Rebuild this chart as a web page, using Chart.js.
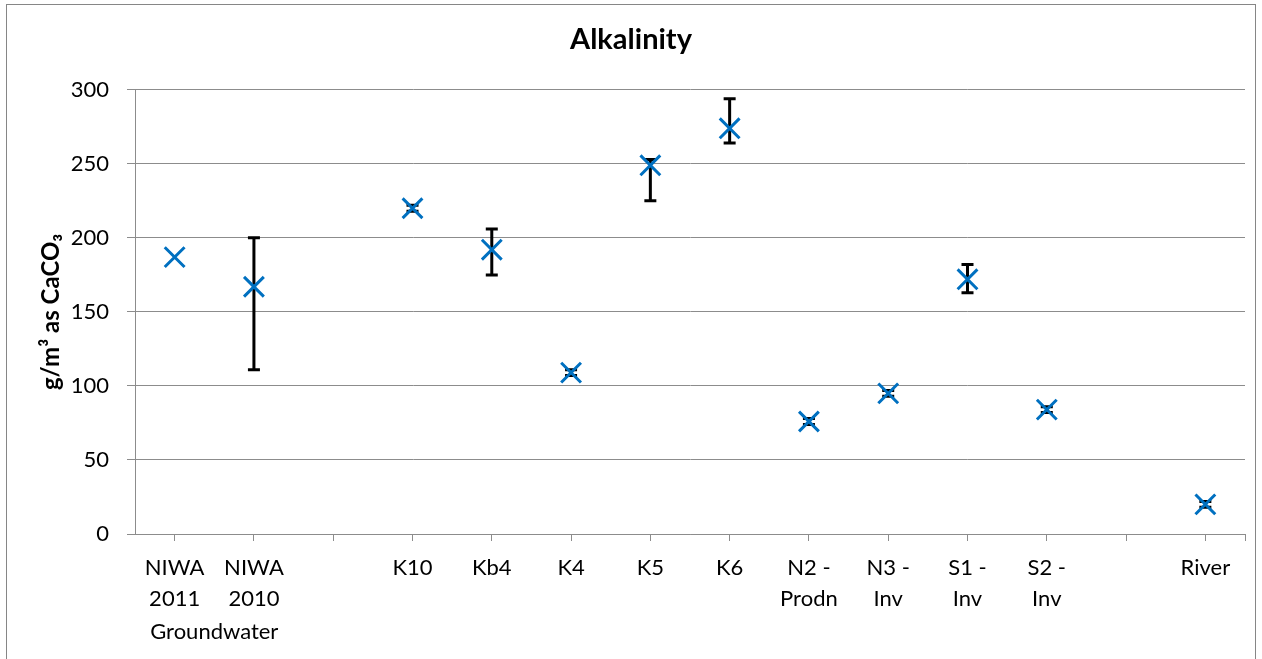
<!DOCTYPE html>
<html>
<head>
<meta charset="utf-8">
<title>Alkalinity</title>
<script src="https://cdn.jsdelivr.net/npm/chart.js@4.4.1/dist/chart.umd.min.js"></script>
<style>
  html, body { margin: 0; padding: 0; background: #fff; }
  #wrap { width: 1262px; height: 659px; }
</style>
</head>
<body>
<div id="wrap"><canvas id="alkChart" width="1262" height="659"></canvas></div>
<script>
// Sites (blank entries are gaps on the axis)
const categories = [
    ['NIWA', '2011'], ['NIWA', '2010'], '',
    'K10', 'Kb4', 'K4', 'K5', 'K6',
    ['N2 -', 'Prodn'], ['N3 -', 'Inv'], ['S1 -', 'Inv'], ['S2 -', 'Inv'],
    '', 'River'
];
// Mean alkalinity, g/m3 as CaCO3
const alkalinity = [187, 167, null, 220, 192, 109, 249, 274, 76, 95, 172, 84, null, 20];
// Range (max / min) shown as error bars
const alkMax = [null, 200, null, 222, 206, 111, 253, 294, 78, 97, 182, 86, null, 22];
const alkMin = [null, 111, null, 218, 175, 107, 225, 264, 74, 93, 163, 82, null, 18];
const yTicks = [0, 50, 100, 150, 200, 250, 300];
// second level label under the first two sites
const groupLabel = 'Groundwater';
const groupSpan = [0, 1];

const axisGrey = '#8c8c8c';
const markerBlue = '#0070c0';
const fontFam = "Lato, 'Open Sans', sans-serif";

// frame around the whole chart + white background
const framePlugin = {
    id: 'frame',
    beforeDraw(chart) {
        const ctx = chart.ctx;
        ctx.save();
        ctx.fillStyle = '#fff';
        ctx.fillRect(0, 0, chart.width, chart.height);
        ctx.strokeStyle = '#868686';
        ctx.lineWidth = 1;
        ctx.strokeRect(6.5, 4.5, chart.width - 13, chart.height + 20);
        ctx.restore();
    }
};

// min/max bars with caps, drawn under the markers
const errorBars = {
    id: 'errorBars',
    beforeDatasetsDraw(chart) {
        const ctx = chart.ctx;
        const x = chart.scales.x;
        const y = chart.scales.y;
        ctx.save();
        ctx.strokeStyle = '#000';
        ctx.lineWidth = 3;
        alkMax.forEach((hi, i) => {
            if (hi === null) return;
            const px = x.getPixelForValue(i);
            const top = y.getPixelForValue(hi);
            const bot = y.getPixelForValue(alkMin[i]);
            ctx.beginPath();
            ctx.moveTo(px, top);
            ctx.lineTo(px, bot);
            ctx.moveTo(px - 6, top);
            ctx.lineTo(px + 6, top);
            ctx.moveTo(px - 6, bot);
            ctx.lineTo(px + 6, bot);
            ctx.stroke();
        });
        ctx.restore();
    },
    afterDraw(chart) {
        const ctx = chart.ctx;
        const x = chart.scales.x;
        const area = chart.chartArea;
        ctx.save();
        // closing tick at the right end of the category axis
        ctx.strokeStyle = axisGrey;
        ctx.lineWidth = 1;
        ctx.beginPath();
        ctx.moveTo(Math.round(area.right) + 0.5, area.bottom);
        ctx.lineTo(Math.round(area.right) + 0.5, area.bottom + 7);
        ctx.stroke();
        // group label
        const cx = (x.getPixelForValue(groupSpan[0]) + x.getPixelForValue(groupSpan[1])) / 2;
        ctx.fillStyle = '#000';
        ctx.font = '22px ' + fontFam;
        ctx.textAlign = 'center';
        ctx.textBaseline = 'middle';
        ctx.fillText(groupLabel, cx, 632);
        ctx.restore();
    }
};

const ctx = document.getElementById('alkChart').getContext('2d');
new Chart(ctx, {
    type: 'line',
    data: {
        labels: categories,
        datasets: [{
            label: 'Alkalinity',
            data: alkalinity,
            showLine: false,
            pointStyle: 'crossRot',
            pointRadius: 14,
            pointHoverRadius: 14,
            pointBorderWidth: 3,
            pointBorderColor: markerBlue,
            pointBackgroundColor: markerBlue
        }]
    },
    options: {
        responsive: false,
        devicePixelRatio: 1,
        animation: false,
        layout: { padding: { left: 11, right: 11, top: 0, bottom: 0 } },
        plugins: {
            legend: { display: false },
            tooltip: { enabled: false },
            title: {
                display: true,
                text: 'Alkalinity',
                color: '#000',
                font: { family: fontFam, size: 29, weight: 'bold' },
                padding: { top: 22, bottom: 33 }
            }
        },
        scales: {
            x: {
                offset: true,
                afterFit(scale) {
                    scale.height = 125;
                    scale.paddingLeft = 0;
                    scale.paddingRight = 0;
                },
                grid: {
                    offset: false,
                    drawOnChartArea: false,
                    drawTicks: true,
                    tickLength: 7,
                    color: axisGrey
                },
                border: { color: axisGrey },
                ticks: {
                    autoSkip: false,
                    maxRotation: 0,
                    color: '#000',
                    padding: 11,
                    font: { family: fontFam, size: 22, lineHeight: 1.43 }
                }
            },
            y: {
                min: 0,
                max: 300,
                afterFit(scale) { scale.width = 124; },
                afterBuildTicks(scale) { scale.ticks = yTicks.map(v => ({ value: v })); },
                grid: { color: axisGrey, tickLength: 8 },
                border: { color: axisGrey },
                ticks: {
                    color: '#000',
                    padding: 18,
                    font: { family: fontFam, size: 22 }
                },
                title: {
                    display: true,
                    text: 'g/m³ as CaCO₃',
                    color: '#000',
                    font: { family: fontFam, size: 24, weight: 'bold' },
                    padding: { top: 26, bottom: 0 }
                }
            }
        }
    },
    plugins: [framePlugin, errorBars]
});
</script>
</body>
</html>
